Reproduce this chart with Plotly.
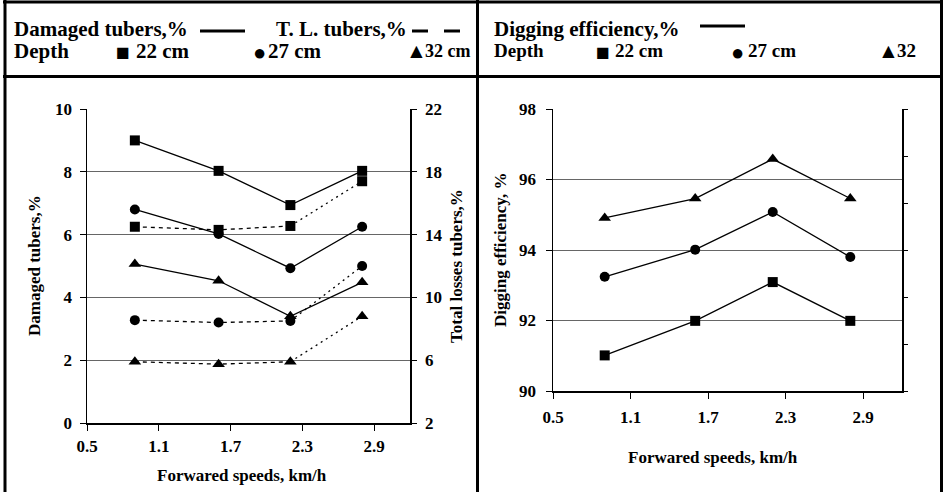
import plotly.graph_objects as go

W, H = 943, 492

# ---------------- data ----------------
speeds = [0.9, 1.6, 2.2, 2.8]
x_ticks = [0.5, 1.1, 1.7, 2.3, 2.9]
x_tick_labels = ["0.5", "1.1", "1.7", "2.3", "2.9"]

# damaged tubers, % (left axis, solid)
damaged_22 = [9.0, 8.03, 6.94, 8.03]
damaged_27 = [6.8, 6.02, 4.93, 6.25]
damaged_32 = [5.06, 4.53, 3.4, 4.48]

# total losses tubers, % (right axis, dashed)
losses_22 = [14.5, 14.3, 14.55, 17.4]
losses_27 = [8.55, 8.4, 8.5, 12.0]
losses_32 = [5.9, 5.75, 5.9, 8.8]

# digging efficiency, %
dig_22 = [91.01, 91.99, 93.09, 91.99]
dig_27 = [93.24, 94.01, 95.08, 93.8]
dig_32 = [94.91, 95.46, 96.58, 95.46]

FONT = "Liberation Serif"


def px(x):
    return x / W


def py(y):
    return 1 - y / H


fig = go.Figure()

line_w = 1.3
msize = 10


def add_series(x, y, symbol, xa, ya, dash="solid", size=msize):
    fig.add_trace(go.Scatter(x=x, y=y, mode="lines+markers", xaxis=xa, yaxis=ya,
                             line=dict(color="black", width=line_w, dash=dash),
                             marker=dict(symbol=symbol, size=size, color="black"),
                             showlegend=False, hoverinfo="skip"))


# left panel - damaged (solid, left axis)
add_series(speeds, damaged_22, "square", "x", "y")
add_series(speeds, damaged_27, "circle", "x", "y")
add_series(speeds, damaged_32, "triangle-up", "x", "y", size=11)

# left panel - total losses (dashed first part, dotted last segment, right axis)
for vals, sym in [(losses_22, "square"), (losses_27, "circle"), (losses_32, "triangle-up")]:
    fig.add_trace(go.Scatter(x=speeds[:3], y=vals[:3], mode="lines", xaxis="x", yaxis="y2",
                             line=dict(color="black", width=line_w, dash="4px,4px"),
                             showlegend=False, hoverinfo="skip"))
    fig.add_trace(go.Scatter(x=speeds[2:], y=vals[2:], mode="lines", xaxis="x", yaxis="y2",
                             line=dict(color="black", width=line_w, dash="2px,4px"),
                             showlegend=False, hoverinfo="skip"))
    fig.add_trace(go.Scatter(x=speeds, y=vals, mode="markers", xaxis="x", yaxis="y2",
                             marker=dict(symbol=sym, size=11 if sym == "triangle-up" else msize,
                                         color="black"),
                             showlegend=False, hoverinfo="skip"))

# right panel - digging efficiency
add_series(speeds, dig_22, "square", "x3", "y3")
add_series(speeds, dig_27, "circle", "x3", "y3")
add_series(speeds, dig_32, "triangle-up", "x3", "y3", size=11)

tickfont = dict(family=FONT, size=17, color="black", weight="bold")
grid_c = "#666666"

common_x = dict(range=[0.5, 3.2], tickvals=x_ticks, ticktext=x_tick_labels,
                showgrid=False, zeroline=False, showline=True, linecolor="black",
                linewidth=1.5, ticks="outside", ticklen=6, tickcolor="black",
                tickfont=tickfont, automargin=False, fixedrange=True)

fig.update_layout(
    width=W, height=H, autosize=False,
    margin=dict(l=0, r=0, t=0, b=0),
    paper_bgcolor="white", plot_bgcolor="white",
    xaxis=dict(domain=[px(87), px(410)], anchor="y", ticklabelstandoff=1, **common_x),
    yaxis=dict(domain=[py(423), py(109)], anchor="x", range=[0, 10], dtick=2,
               showgrid=True, gridcolor=grid_c, gridwidth=1, zeroline=False,
               showline=True, linecolor="black", linewidth=1.5, ticks="outside",
               ticklen=6, tickcolor="black", tickfont=tickfont, automargin=False,
               ticklabelstandoff=4),
    yaxis2=dict(overlaying="y", side="right", anchor="x", range=[2, 22], tick0=2, dtick=4,
                showgrid=False, zeroline=False, showline=True, linecolor="black",
                linewidth=1.5, ticks="outside", ticklen=5, tickcolor="black",
                tickfont=tickfont, automargin=False, ticklabelstandoff=5),
    xaxis3=dict(domain=[px(553), px(902)], anchor="y3", ticklabelstandoff=4, **common_x),
    yaxis3=dict(domain=[py(391), py(109)], anchor="x3", range=[90, 98], dtick=2,
                showgrid=True, gridcolor=grid_c, gridwidth=1, zeroline=False,
                showline=True, linecolor="black", linewidth=1.5, ticks="outside",
                ticklen=6, tickcolor="black", tickfont=tickfont, automargin=False,
                ticklabelstandoff=6),
    yaxis4=dict(overlaying="y3", side="right", anchor="x3", range=[0, 6], dtick=1,
                showgrid=False, zeroline=False, showline=True, linecolor="black",
                linewidth=1.5, ticks="outside", ticklen=4, tickcolor="black",
                showticklabels=False, automargin=False),
)

# invisible trace to activate yaxis4
fig.add_trace(go.Scatter(x=[None], y=[None], xaxis="x3", yaxis="y4", showlegend=False,
                         hoverinfo="skip"))

annotations = []


def text(t, x, y, size=21, anchor="left", angle=0):
    annotations.append(dict(text=t, x=px(x), y=py(y), xref="paper", yref="paper",
                            xanchor=anchor, yanchor="middle", showarrow=False,
                            textangle=angle,
                            font=dict(family=FONT, size=size, color="black")))


def b(t):
    return "<b>" + t + "</b>"


# header left
text(b("Damaged tubers,%"), 12, 29)
text(b("T. L. tubers,%"), 274, 29)
text(b("Depth"), 12, 51)
text("■", 123, 52, size=23, anchor="center")
text(b("22 cm"), 134, 51)
text("●", 259, 52, size=22, anchor="center")
text(b("27 cm"), 266, 51)
text("▲", 416, 51, size=21, anchor="center")
text(b("32 cm"), 423, 51, size=18)
# header right
text(b("Digging efficiency,%"), 492, 29)
text(b("Depth"), 492, 51, size=19)
text("■", 603, 52, size=23, anchor="center")
text(b("22 cm"), 613, 51, size=19)
text("●", 737, 52, size=22, anchor="center")
text(b("27 cm"), 746, 51, size=19)
text("▲", 888, 51, size=21, anchor="center")
text(b("32"), 895, 51, size=19)

# axis titles
text(b("Damaged tubers,%"), 34, 266, size=17, anchor="center", angle=-90)
text(b("Total losses tubers,%"), 456, 266, size=17, anchor="center", angle=-90)
text(b("Forwared speeds, km/h"), 242, 475, size=17, anchor="center")
text(b("Digging efficiency, %"), 500, 250, size=17, anchor="center", angle=-90)
text(b("Forwared speeds, km/h"), 713, 457, size=17, anchor="center")

shapes = []


def seg(x0, y0, x1, y1, w=3):
    shapes.append(dict(type="line", xref="paper", yref="paper",
                       x0=px(x0), y0=py(y0), x1=px(x1), y1=py(y1),
                       line=dict(color="black", width=w)))


# borders
seg(3, 2, 943, 2, 3)          # top
seg(5, 0, 5, H, 3)            # left
seg(941.5, 0, 941.5, H, 3)    # right
seg(477.5, 0, 477.5, H, 3)    # divider
seg(3, 76.5, 943, 76.5, 3)    # header bottom
# legend line samples
seg(200, 31, 245, 31, 3)
seg(412, 31, 428, 31, 3)
seg(444, 31, 460, 31, 3)
seg(700, 26, 745, 26, 3)

fig.update_layout(annotations=annotations, shapes=shapes)

fig.write_html("out.html", config={"displayModeBar": False, "staticPlot": True},
               post_script="document.body.style.margin='0';document.body.style.padding='0';")
